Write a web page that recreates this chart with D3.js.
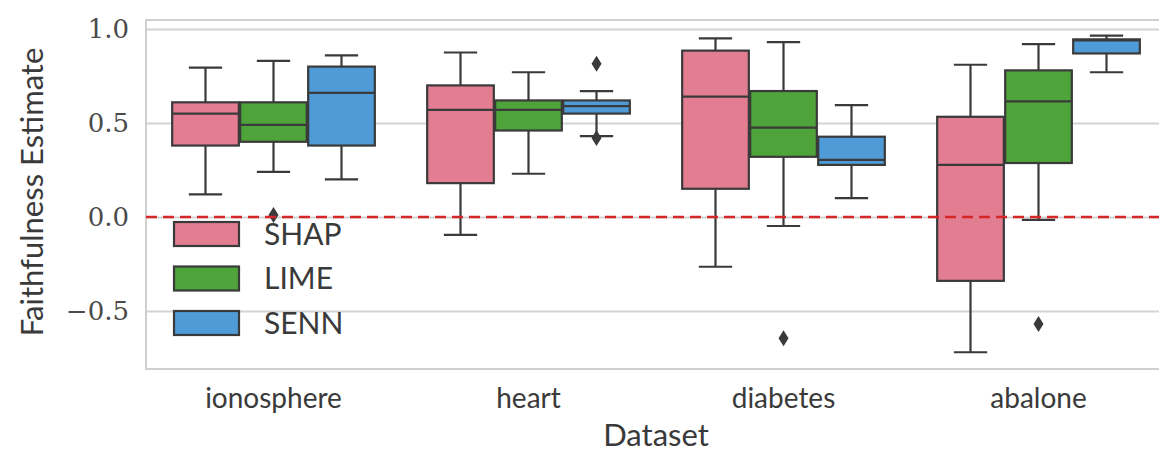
<!DOCTYPE html>
<html>
<head>
<meta charset="utf-8">
<script src="https://cdn.jsdelivr.net/npm/d3@7"></script>
<style>
body { margin: 0; background: #fff; overflow: hidden; }
</style>
</head>
<body>
<svg id="chart" width="1159" height="452"></svg>
<script>
// data
const datasets = ["ionosphere", "heart", "diabetes", "abalone"];
const methods = ["SHAP", "LIME", "SENN"];
const methodColors = ["#e27d92", "#4ea33a", "#4e9bd8"];

// [low whisker, q1, median, q3, high whisker] per dataset
const shapStats = [
  [0.12, 0.38, 0.55, 0.61, 0.795],
  [-0.095, 0.18, 0.57, 0.70, 0.875],
  [-0.265, 0.15, 0.64, 0.885, 0.95],
  [-0.72, -0.34, 0.277, 0.533, 0.81]
];
const limeStats = [
  [0.24, 0.40, 0.49, 0.61, 0.83],
  [0.23, 0.46, 0.57, 0.62, 0.77],
  [-0.048, 0.32, 0.475, 0.67, 0.93],
  [-0.016, 0.287, 0.615, 0.78, 0.92]
];
const sennStats = [
  [0.20, 0.38, 0.66, 0.80, 0.86],
  [0.43, 0.55, 0.59, 0.62, 0.67],
  [0.10, 0.277, 0.304, 0.427, 0.595],
  [0.77, 0.87, 0.94, 0.945, 0.965]
];
const outlierDataset = ["ionosphere", "heart", "heart", "diabetes", "abalone"];
const outlierMethod = ["LIME", "SENN", "SENN", "LIME", "LIME"];
const outlierValue = [0.01, 0.815, 0.42, -0.645, -0.57];
const yTicks = [1.0, 0.5, 0.0, -0.5];

const svg = d3.select("#chart");
const mLeft = 146, mRight = 1166, mTop = 20, mBottom = 369;

const x = d3.scaleBand().domain(datasets).range([mLeft, mRight]);
const inner = d3.scaleBand().domain(methods)
  .range([x.bandwidth() * 0.1, x.bandwidth() * 0.9]);
const y = d3.scaleLinear().domain([-0.809, 1.048]).range([mBottom, mTop]);
const color = d3.scaleOrdinal().domain(methods).range(methodColors);

// grid
svg.append("g")
  .attr("transform", `translate(${mLeft},0)`)
  .call(d3.axisLeft(y).tickValues(yTicks).tickSize(-(mRight - mLeft)).tickFormat(""))
  .call(g => g.select(".domain").remove())
  .call(g => g.selectAll("line").attr("stroke", "#d4d4d4").attr("stroke-width", 2));

// frame
svg.append("rect")
  .attr("x", mLeft).attr("y", mTop)
  .attr("width", mRight - mLeft).attr("height", mBottom - mTop)
  .attr("fill", "none").attr("stroke", "#cfcfcf").attr("stroke-width", 2);

// y tick labels
svg.append("g")
  .attr("transform", `translate(${mLeft - 17},0)`)
  .call(d3.axisLeft(y).tickValues(yTicks).tickSize(0).tickFormat(d3.format(".1f")))
  .call(g => g.select(".domain").remove())
  .call(g => g.selectAll("text")
    .attr("x", 0)
    .attr("dy", "0.33em")
    .attr("fill", "#4a4a4a")
    .style("font-family", "'DejaVu Serif', serif")
    .style("font-size", "26px"));

// x tick labels
svg.append("g")
  .attr("transform", `translate(0,${mBottom})`)
  .call(d3.axisBottom(x).tickSize(0))
  .call(g => g.select(".domain").remove())
  .call(g => g.selectAll("text")
    .attr("y", 39)
    .attr("dy", 0)
    .attr("fill", "#3a3a3a")
    .style("font-family", "Lato, sans-serif")
    .style("font-size", "28px"));

// axis titles
svg.append("text")
  .attr("x", 656).attr("y", 446)
  .attr("text-anchor", "middle")
  .attr("fill", "#3a3a3a")
  .style("font-family", "Lato, sans-serif")
  .style("font-size", "31px")
  .text("Dataset");

svg.append("text")
  .attr("transform", "translate(43,192) rotate(-90)")
  .attr("text-anchor", "middle")
  .attr("fill", "#3a3a3a")
  .style("font-family", "Lato, sans-serif")
  .style("font-size", "31px")
  .text("Faithfulness Estimate");

// boxes
const allStats = [shapStats, limeStats, sennStats];
const edge = "#3a3a3a";
const boxes = [];
methods.forEach((m, mi) => {
  datasets.forEach((d, di) => {
    boxes.push({ dataset: d, method: m, s: allStats[mi][di] });
  });
});

const bw = inner.bandwidth() * 0.98;
const boxG = svg.append("g").selectAll("g").data(boxes).join("g")
  .attr("transform", b => `translate(${x(b.dataset) + inner(b.method) + inner.bandwidth() / 2},0)`);

// whiskers
boxG.append("line")
  .attr("x1", 0).attr("x2", 0)
  .attr("y1", b => y(b.s[0])).attr("y2", b => y(b.s[1]))
  .attr("stroke", edge).attr("stroke-width", 2.2);
boxG.append("line")
  .attr("x1", 0).attr("x2", 0)
  .attr("y1", b => y(b.s[3])).attr("y2", b => y(b.s[4]))
  .attr("stroke", edge).attr("stroke-width", 2.2);
// caps
boxG.append("line")
  .attr("x1", -bw / 4).attr("x2", bw / 4)
  .attr("y1", b => y(b.s[0])).attr("y2", b => y(b.s[0]))
  .attr("stroke", edge).attr("stroke-width", 2.2);
boxG.append("line")
  .attr("x1", -bw / 4).attr("x2", bw / 4)
  .attr("y1", b => y(b.s[4])).attr("y2", b => y(b.s[4]))
  .attr("stroke", edge).attr("stroke-width", 2.2);
// box
boxG.append("rect")
  .attr("x", -bw / 2).attr("width", bw)
  .attr("y", b => y(b.s[3]))
  .attr("height", b => y(b.s[1]) - y(b.s[3]))
  .attr("fill", b => color(b.method))
  .attr("stroke", edge).attr("stroke-width", 2.2);
// median
boxG.append("line")
  .attr("x1", -bw / 2).attr("x2", bw / 2)
  .attr("y1", b => y(b.s[2])).attr("y2", b => y(b.s[2]))
  .attr("stroke", edge).attr("stroke-width", 2.2);

// outliers (diamonds)
const diamond = "M0,-8L5,0L0,8L-5,0Z";
svg.append("g").selectAll("path").data(outlierValue).join("path")
  .attr("d", diamond)
  .attr("transform", (v, i) =>
    `translate(${x(outlierDataset[i]) + inner(outlierMethod[i]) + inner.bandwidth() / 2},${y(v)})`)
  .attr("fill", "#3a3a3a");

// zero reference line
svg.append("line")
  .attr("x1", mLeft).attr("x2", mRight)
  .attr("y1", y(0)).attr("y2", y(0))
  .attr("stroke", "#d62728").attr("stroke-width", 2.5)
  .attr("stroke-dasharray", "11,6");

// legend
const legend = svg.append("g").selectAll("g").data(methods).join("g")
  .attr("transform", (m, i) => `translate(174,${222 + i * 44.5})`);
legend.append("rect")
  .attr("width", 65).attr("height", 24)
  .attr("fill", m => color(m))
  .attr("stroke", edge).attr("stroke-width", 2.2);
legend.append("text")
  .attr("x", 90).attr("y", 12).attr("dy", "0.36em")
  .attr("fill", "#3a3a3a")
  .style("font-family", "Lato, sans-serif")
  .style("font-size", "30px")
  .text(m => m);
</script>
</body>
</html>
